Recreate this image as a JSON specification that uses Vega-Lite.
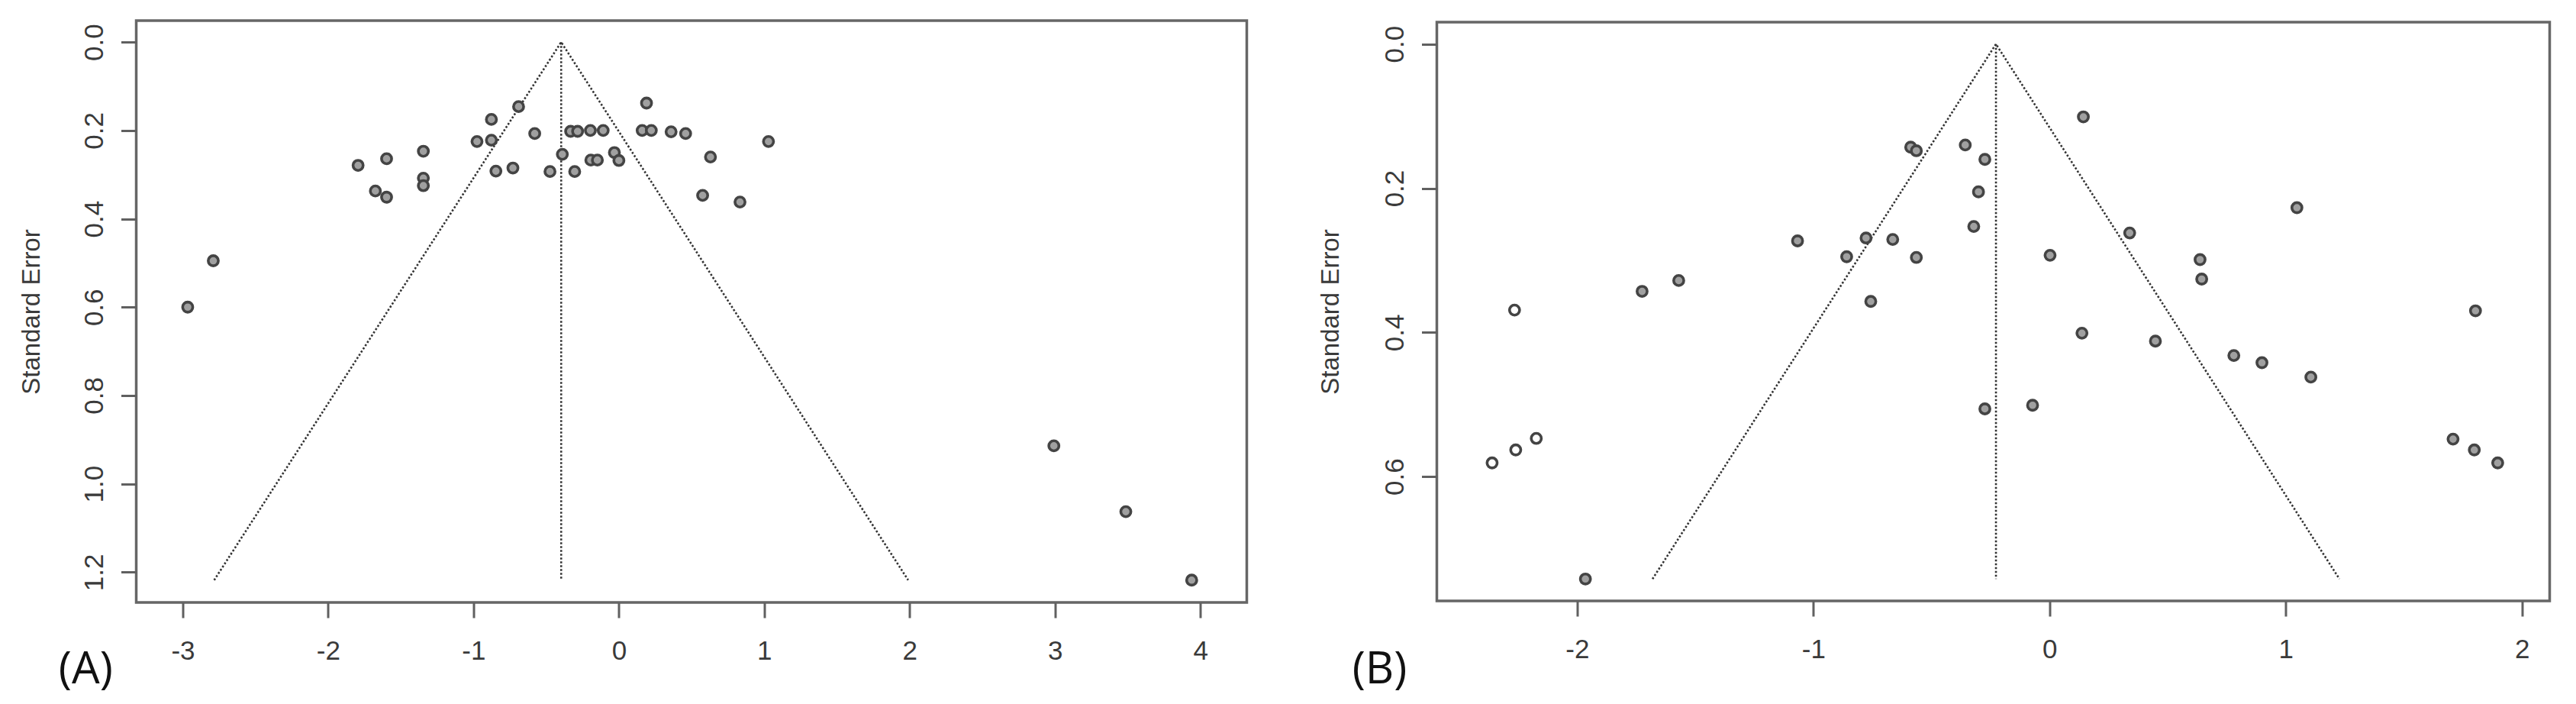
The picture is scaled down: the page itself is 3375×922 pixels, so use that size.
{
  "$schema": "https://vega.github.io/schema/vega-lite/v6.json",
  "background": "white",
  "padding": {"left": 23.5, "top": 25, "right": 35, "bottom": 10},
  "bounds": "flush",
  "spacing": 249,
  "center": true,
  "config": {
    "view": {"stroke": "#666666", "strokeWidth": 3.5},
    "axis": {
      "domain": false, "grid": false, "ticks": true, "tickSize": 20, "tickWidth": 3, "tickColor": "#606060",
      "labelFont": "Liberation Sans", "labelFontSize": 35, "labelColor": "#3a3a3a",
      "titleFont": "Liberation Sans", "titleFontWeight": "normal", "titleColor": "#3a3a3a",
      "labelOverlap": false, "labelFlush": false
    }
  },
  "datasets": {
    "studiesA": [
      {"x": -2.966, "se": 0.600}, {"x": -2.790, "se": 0.495}, {"x": -1.794, "se": 0.279}, {"x": -1.598, "se": 0.264},
      {"x": -1.675, "se": 0.337}, {"x": -1.598, "se": 0.351}, {"x": -1.345, "se": 0.247}, {"x": -1.345, "se": 0.308},
      {"x": -1.345, "se": 0.325}, {"x": -0.976, "se": 0.225}, {"x": -0.877, "se": 0.175}, {"x": -0.877, "se": 0.222},
      {"x": -0.846, "se": 0.292}, {"x": -0.729, "se": 0.285}, {"x": -0.690, "se": 0.146}, {"x": -0.579, "se": 0.207},
      {"x": -0.474, "se": 0.293}, {"x": -0.389, "se": 0.254}, {"x": -0.332, "se": 0.202}, {"x": -0.284, "se": 0.202},
      {"x": -0.304, "se": 0.293}, {"x": -0.196, "se": 0.200}, {"x": -0.108, "se": 0.200}, {"x": -0.193, "se": 0.267},
      {"x": -0.148, "se": 0.267}, {"x": -0.031, "se": 0.250}, {"x": 0.000, "se": 0.268}, {"x": 0.190, "se": 0.138},
      {"x": 0.160, "se": 0.200}, {"x": 0.223, "se": 0.200}, {"x": 0.359, "se": 0.203}, {"x": 0.459, "se": 0.207},
      {"x": 1.029, "se": 0.225}, {"x": 0.630, "se": 0.260}, {"x": 0.576, "se": 0.347}, {"x": 0.833, "se": 0.362},
      {"x": 2.992, "se": 0.914}, {"x": 3.487, "se": 1.063}, {"x": 3.940, "se": 1.218}
    ],
    "funnelA": [
      {"g": "F", "o": 1, "x": -2.784, "se": 1.218}, {"g": "F", "o": 2, "x": -0.397, "se": 0}, {"g": "F", "o": 3, "x": 1.990, "se": 1.218},
      {"g": "V", "o": 1, "x": -0.397, "se": 0}, {"g": "V", "o": 2, "x": -0.397, "se": 1.218}
    ],
    "studiesB": [
      {"x": -1.965, "se": 0.742, "type": "observed"}, {"x": -1.725, "se": 0.343, "type": "observed"},
      {"x": -1.570, "se": 0.328, "type": "observed"}, {"x": -1.067, "se": 0.273, "type": "observed"},
      {"x": -0.859, "se": 0.295, "type": "observed"}, {"x": -0.777, "se": 0.269, "type": "observed"},
      {"x": -0.757, "se": 0.357, "type": "observed"}, {"x": -0.664, "se": 0.271, "type": "observed"},
      {"x": -0.564, "se": 0.296, "type": "observed"}, {"x": -0.588, "se": 0.143, "type": "observed"},
      {"x": -0.564, "se": 0.148, "type": "observed"}, {"x": -0.357, "se": 0.140, "type": "observed"},
      {"x": -0.274, "se": 0.160, "type": "observed"}, {"x": -0.301, "se": 0.205, "type": "observed"},
      {"x": -0.321, "se": 0.253, "type": "observed"}, {"x": -0.274, "se": 0.506, "type": "observed"},
      {"x": -0.072, "se": 0.501, "type": "observed"}, {"x": 0.002, "se": 0.293, "type": "observed"},
      {"x": 0.143, "se": 0.101, "type": "observed"}, {"x": 0.137, "se": 0.401, "type": "observed"},
      {"x": 0.339, "se": 0.262, "type": "observed"}, {"x": 0.448, "se": 0.412, "type": "observed"},
      {"x": 0.637, "se": 0.299, "type": "observed"}, {"x": 0.644, "se": 0.326, "type": "observed"},
      {"x": 0.780, "se": 0.432, "type": "observed"}, {"x": 0.899, "se": 0.442, "type": "observed"},
      {"x": 1.047, "se": 0.227, "type": "observed"}, {"x": 1.106, "se": 0.462, "type": "observed"},
      {"x": 1.708, "se": 0.548, "type": "observed"}, {"x": 1.798, "se": 0.563, "type": "observed"},
      {"x": 1.897, "se": 0.581, "type": "observed"}, {"x": 1.803, "se": 0.370, "type": "observed"},
      {"x": -2.360, "se": 0.581, "type": "imputed"}, {"x": -2.260, "se": 0.563, "type": "imputed"},
      {"x": -2.173, "se": 0.547, "type": "imputed"}, {"x": -2.265, "se": 0.369, "type": "imputed"}
    ],
    "funnelB": [
      {"g": "F", "o": 1, "x": -1.681, "se": 0.742}, {"g": "F", "o": 2, "x": -0.227, "se": 0}, {"g": "F", "o": 3, "x": 1.227, "se": 0.742},
      {"g": "V", "o": 1, "x": -0.227, "se": 0}, {"g": "V", "o": 2, "x": -0.227, "se": 0.742}
    ]
  },
  "hconcat": [
    {
      "width": 1455,
      "height": 762,
      "encoding": {
        "x": {
          "field": "x", "type": "quantitative",
          "scale": {"domain": [-3.320, 4.319], "nice": false, "zero": false},
          "axis": {
            "values": [-3, -2, -1, 0, 1, 2, 3, 4],
            "labelExpr": "toString(datum.value)",
            "labelBaseline": "top", "labelPadding": 26,
            "title": "(A)", "titleFont": "Open Sans", "titleFontSize": 58, "titleColor": "#111111",
            "titleX": -66.7, "titleY": 88.3, "titleAlign": "center", "titleBaseline": "middle", "titleAngle": 0
          }
        },
        "y": {
          "field": "se", "type": "quantitative",
          "scale": {"domain": [-0.0487, 1.2685], "nice": false, "zero": false, "reverse": true},
          "axis": {
            "values": [0, 0.2, 0.4, 0.6, 0.8, 1.0, 1.2],
            "labelExpr": "format(datum.value, '.1f')",
            "labelAngle": -90, "labelAlign": "center", "labelBaseline": "alphabetic", "labelPadding": 24,
            "title": "Standard Error", "titleFontSize": 33,
            "titleX": -136.7, "titleY": 381, "titleAngle": -90, "titleAlign": "center", "titleBaseline": "middle"
          }
        }
      },
      "layer": [
        {
          "data": {"name": "funnelA"},
          "mark": {"type": "line", "color": "#333333", "strokeWidth": 2.6, "strokeDash": [2.5, 2.5]},
          "encoding": {"order": {"field": "o", "type": "quantitative"}, "detail": {"field": "g", "type": "nominal"}}
        },
        {
          "data": {"name": "studiesA"},
          "mark": {"type": "point", "shape": "circle", "filled": true, "size": 175, "fill": "#a0a0a0", "stroke": "#444444", "strokeWidth": 3.6, "opacity": 1}
        }
      ]
    },
    {
      "width": 1458,
      "height": 758,
      "encoding": {
        "x": {
          "field": "x", "type": "quantitative",
          "scale": {"domain": [-2.594, 2.117], "nice": false, "zero": false},
          "axis": {
            "values": [-2, -1, 0, 1, 2],
            "labelExpr": "toString(datum.value)",
            "labelBaseline": "top", "labelPadding": 26,
            "title": "(B)", "titleFont": "Open Sans", "titleFontSize": 58, "titleColor": "#111111",
            "titleX": -75.5, "titleY": 90.3, "titleAlign": "center", "titleBaseline": "middle", "titleAngle": 0
          }
        },
        "y": {
          "field": "se", "type": "quantitative",
          "scale": {"domain": [-0.0304, 0.7724], "nice": false, "zero": false, "reverse": true},
          "axis": {
            "values": [0, 0.2, 0.4, 0.6],
            "labelExpr": "format(datum.value, '.1f')",
            "labelAngle": -90, "labelAlign": "center", "labelBaseline": "alphabetic", "labelPadding": 24,
            "title": "Standard Error", "titleFontSize": 33,
            "titleX": -139.5, "titleY": 379, "titleAngle": -90, "titleAlign": "center", "titleBaseline": "middle"
          }
        }
      },
      "layer": [
        {
          "data": {"name": "funnelB"},
          "mark": {"type": "line", "color": "#333333", "strokeWidth": 2.6, "strokeDash": [2.5, 2.5]},
          "encoding": {"order": {"field": "o", "type": "quantitative"}, "detail": {"field": "g", "type": "nominal"}}
        },
        {
          "data": {"name": "studiesB"},
          "mark": {"type": "point", "shape": "circle", "filled": true, "size": 175, "stroke": "#444444", "strokeWidth": 3.6, "opacity": 1},
          "encoding": {
            "fill": {"field": "type", "type": "nominal", "scale": {"domain": ["observed", "imputed"], "range": ["#a0a0a0", "#ffffff"]}, "legend": null}
          }
        }
      ]
    }
  ]
}
